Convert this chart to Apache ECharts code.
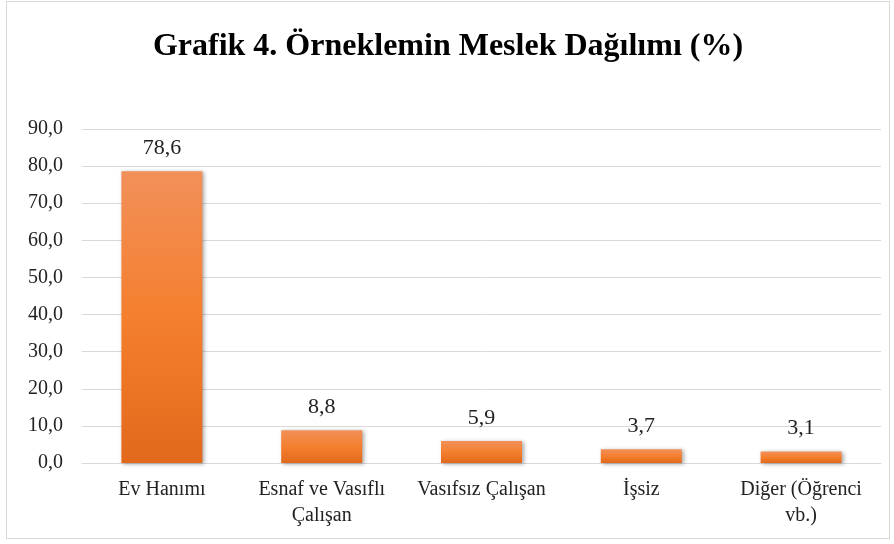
<!DOCTYPE html>
<html>
<head>
<meta charset="utf-8">
<script src="https://cdn.jsdelivr.net/npm/echarts@6/dist/echarts.min.js"></script>
<style>
html, body { margin: 0; padding: 0; background: #fff; }
#chart { position: absolute; left: 6px; top: 1px; width: 884px; height: 538px; border: 1px solid #d9d9d9; box-sizing: border-box; }
</style>
</head>
<body>
<div id="chart"></div>
<script>
const categories = ['Ev Hanımı', 'Esnaf ve Vasıflı\nÇalışan', 'Vasıfsız Çalışan', 'İşsiz', 'Diğer (Öğrenci\nvb.)']
const values = [78.6, 8.8, 5.9, 3.7, 3.1]
const yTicks = { min: 0, max: 90, interval: 10 }

const serif = '"Liberation Serif", "DejaVu Serif", serif'
const chart = echarts.init(document.getElementById('chart'))
chart.setOption({
    title: {
        text: 'Grafik 4. Örneklemin Meslek Dağılımı (%)',
        left: 'center',
        top: 24,
        textStyle: {
            fontFamily: serif,
            fontSize: 32,
            fontWeight: 'bold',
            color: '#000'
        }
    },
    grid: {
        left: 75,
        right: 8,
        top: 127,
        bottom: 75
    },
    xAxis: {
        type: 'category',
        data: categories,
        axisLine: { lineStyle: { color: '#d9d9d9' } },
        axisTick: { show: false },
        axisLabel: {
            interval: 0,
            fontFamily: serif,
            fontSize: 20,
            color: '#222',
            lineHeight: 26,
            margin: 14
        }
    },
    yAxis: {
        type: 'value',
        min: yTicks.min,
        max: yTicks.max,
        interval: yTicks.interval,
        axisLine: { show: false },
        axisTick: { show: false },
        splitLine: { lineStyle: { color: '#d9d9d9' } },
        axisLabel: {
            fontFamily: serif,
            fontSize: 20,
            color: '#222',
            margin: 19,
            formatter: v => v.toFixed(1).replace('.', ',')
        }
    },
    series: [{
        type: 'bar',
        data: values,
        barWidth: 81,
        itemStyle: {
            color: new echarts.graphic.LinearGradient(0, 0, 0, 1, [
                { offset: 0, color: '#f2905a' },
                { offset: 0.5, color: '#f47f2e' },
                { offset: 1, color: '#e2691c' }
            ]),
            shadowColor: 'rgba(0,0,0,0.35)',
            shadowBlur: 4,
            shadowOffsetX: 2,
            shadowOffsetY: 1
        },
        label: {
            show: true,
            position: 'top',
            distance: 12,
            fontFamily: serif,
            fontSize: 22,
            color: '#222',
            formatter: p => p.value.toFixed(1).replace('.', ',')
        }
    }]
})
</script>
</body>
</html>
